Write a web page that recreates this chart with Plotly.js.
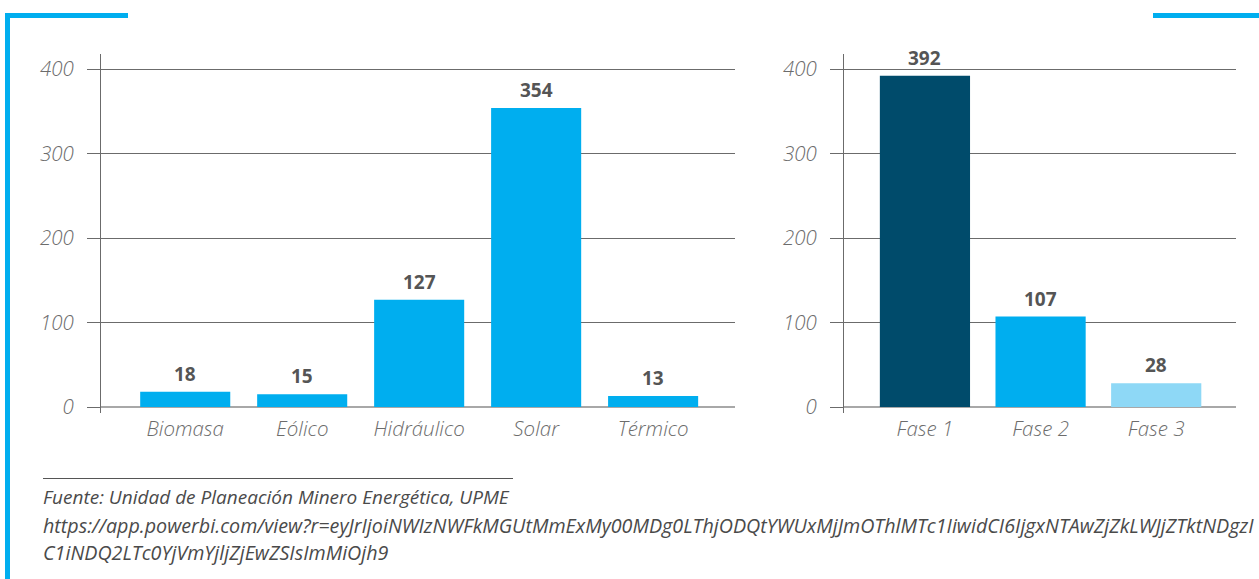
<!DOCTYPE html>
<html>
<head>
<meta charset="utf-8">
<script src="https://cdn.plot.ly/plotly-3.0.1.min.js"></script>
<style>
html,body{margin:0;padding:0;background:#fff;}
#chart{width:1259px;height:579px;}
</style>
</head>
<body>
<div id="chart"></div>
<script>
// Data
const tecnologias = ["Biomasa", "Eólico", "Hidráulico", "Solar", "Térmico"];
const valoresTecnologia = [18, 15, 127, 354, 13];
const fases = ["Fase 1", "Fase 2", "Fase 3"];
const valoresFase = [392, 107, 28];
const coloresFase = ["#004B6B", "#00AEEF", "#8ED8F6"];
const yTicks = [0, 100, 200, 300, 400];
const fuente = "Fuente: Unidad de Planeación Minero Energética, UPME";
const urlLinea1 = "https://app.powerbi.com/view?r=eyJrIjoiNWIzNWFkMGUtMmExMy00MDg0LThjODQtYWUxMjJmOThlMTc1IiwidCI6IjgxNTAwZjZkLWJjZTktNDgzI";
const urlLinea2 = "C1iNDQ2LTc0YjVmYjljZjEwZSIsImMiOjh9";

const W = 1259, H = 579;
const px = v => v / W;
const py = v => (H - v) / H;

const FONT = "Open Sans, Noto Sans, sans-serif";
const tickFont = {family: FONT, size: 20.5, color: "#6c6c6c", style: "italic", weight: 300};
const labelFont = {family: FONT, size: 19, color: "#555555", weight: 700};

const traces = [
  {type: "bar", x: tecnologias, y: valoresTecnologia, xaxis: "x", yaxis: "y",
   marker: {color: "#00AEEF"}, width: 0.77, hoverinfo: "skip"},
  {type: "bar", x: fases, y: valoresFase, xaxis: "x2", yaxis: "y2",
   marker: {color: coloresFase}, width: 0.78, hoverinfo: "skip"}
];

const annotations = [];
tecnologias.forEach((c, i) => annotations.push({
  x: c, y: valoresTecnologia[i], xref: "x", yref: "y", text: String(valoresTecnologia[i]),
  showarrow: false, yanchor: "middle", yshift: 18, font: labelFont}));
fases.forEach((c, i) => annotations.push({
  x: c, y: valoresFase[i], xref: "x2", yref: "y2", text: String(valoresFase[i]),
  showarrow: false, yanchor: "middle", yshift: 18, font: labelFont}));

const srcFont = {family: FONT, size: 19, color: "#4a4a4a", style: "italic"};
const urlFont = {family: FONT, size: 19.7, color: "#4a4a4a", style: "italic"};
annotations.push({xref: "paper", yref: "paper", x: px(41), y: py(497), xanchor: "left", yanchor: "middle",
  text: fuente, showarrow: false, font: srcFont});
annotations.push({xref: "paper", yref: "paper", x: px(41), y: py(525), xanchor: "left", yanchor: "middle",
  text: urlLinea1, showarrow: false, font: urlFont});
annotations.push({xref: "paper", yref: "paper", x: px(41), y: py(552), xanchor: "left", yanchor: "middle",
  text: urlLinea2, showarrow: false, font: urlFont});

const yCommon = {
  domain: [py(413), py(54)], range: [-7.1, 417.8], tickvals: yTicks,
  showgrid: true, gridcolor: "#6b6b6b", gridwidth: 1,
  zeroline: true, zerolinecolor: "#a8a8a8", zerolinewidth: 2,
  showline: true, linecolor: "#6b6b6b", linewidth: 1,
  ticks: "outside", ticklen: 13, tickcolor: "#6b6b6b", tickwidth: 1,
  tickfont: tickFont, ticklabelstandoff: 9, fixedrange: true
};
const xCommon = {
  showgrid: false, zeroline: false, showline: false, ticks: "",
  tickfont: tickFont, ticklabelstandoff: 1, fixedrange: true
};

const layout = {
  width: W, height: H, margin: {l: 0, r: 0, t: 0, b: 0},
  paper_bgcolor: "#ffffff", plot_bgcolor: "rgba(0,0,0,0)",
  showlegend: false, bargap: 0.2,
  xaxis: Object.assign({}, xCommon, {domain: [px(101), px(735)], range: [-0.72, 4.70], anchor: "y"}),
  yaxis: Object.assign({}, yCommon, {anchor: "x"}),
  xaxis2: Object.assign({}, xCommon, {domain: [px(844), px(1236)], range: [-0.70, 2.69], anchor: "y2"}),
  yaxis2: Object.assign({}, yCommon, {anchor: "x2"}),
  annotations: annotations,
  shapes: [
    {type: "rect", xref: "paper", yref: "paper", x0: px(5), x1: px(10), y0: 0, y1: py(13),
     fillcolor: "#00AEEF", line: {width: 0}},
    {type: "rect", xref: "paper", yref: "paper", x0: px(5), x1: px(128), y0: py(18), y1: py(13),
     fillcolor: "#00AEEF", line: {width: 0}},
    {type: "rect", xref: "paper", yref: "paper", x0: px(1153), x1: 1, y0: py(18), y1: py(13),
     fillcolor: "#00AEEF", line: {width: 0}},
    {type: "line", xref: "paper", yref: "paper", x0: px(43), x1: px(513), y0: py(478.5), y1: py(478.5),
     line: {color: "#555555", width: 1}}
  ]
};

Plotly.newPlot("chart", traces, layout, {displayModeBar: false, staticPlot: true});
</script>
</body>
</html>
